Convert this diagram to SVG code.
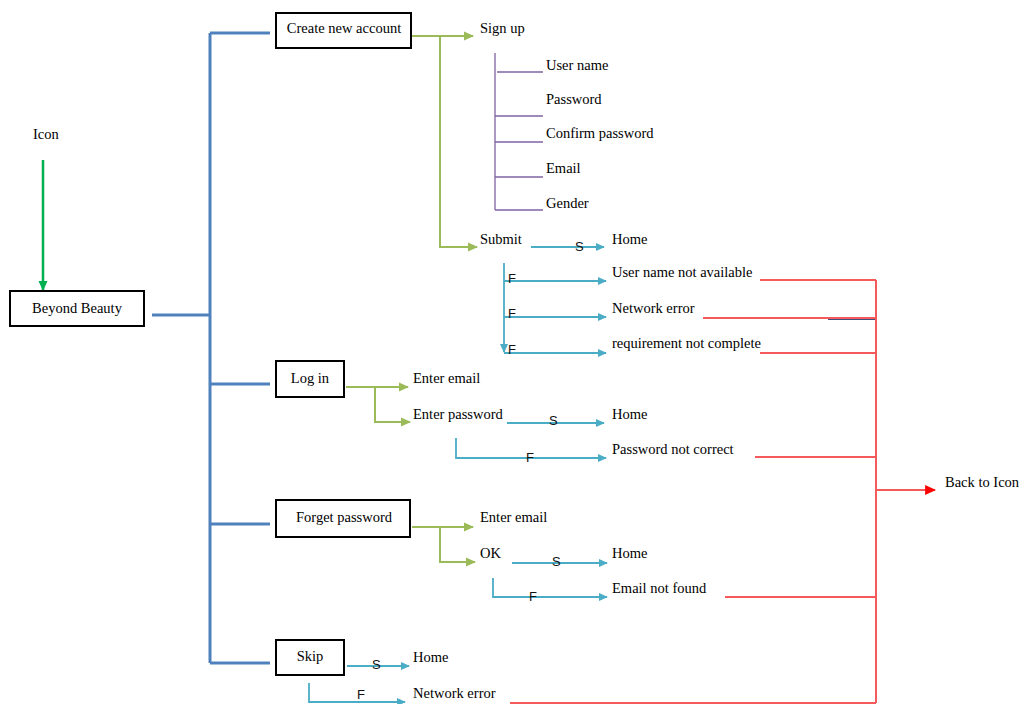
<svg xmlns="http://www.w3.org/2000/svg" width="1023" height="704" viewBox="0 0 1023 704">
  <style>
    .t { font-family: "Liberation Serif", "Times New Roman", serif; font-size: 14.5px; fill: #000; }
    .sf { font-family: "Liberation Sans", Arial, sans-serif; font-size: 13px; fill: #111; }
    .box { fill: #fff; stroke: #000; stroke-width: 2; }
    .main { fill: none; stroke: #4f81bd; stroke-width: 3; }
    .grn { fill: none; stroke: #9bbb59; stroke-width: 2; }
    .pur { fill: none; stroke: #8064a2; stroke-width: 1.3; }
    .cy { fill: none; stroke: #4bacc6; stroke-width: 1.8; }
    .red { fill: none; stroke: #f55a5a; stroke-width: 2; }
  </style>
  <defs>
    <marker id="ahGreen" markerUnits="userSpaceOnUse" markerWidth="10" markerHeight="10" viewBox="0 0 10 10" refX="9" refY="5" orient="auto">
      <path d="M0,0.5 L10,5 L0,9.5 Z" fill="#9bbb59"/>
    </marker>
    <marker id="ahCyan" markerUnits="userSpaceOnUse" markerWidth="9" markerHeight="9" viewBox="0 0 10 10" refX="9" refY="5" orient="auto">
      <path d="M0,0.5 L10,5 L0,9.5 Z" fill="#4bacc6"/>
    </marker>
    <marker id="ahIcon" markerUnits="userSpaceOnUse" markerWidth="10" markerHeight="10" viewBox="0 0 10 10" refX="9" refY="5" orient="auto">
      <path d="M0,0.5 L10,5 L0,9.5 Z" fill="#00b050"/>
    </marker>
    <marker id="ahRed" markerUnits="userSpaceOnUse" markerWidth="11" markerHeight="11" viewBox="0 0 10 10" refX="9" refY="5" orient="auto">
      <path d="M0,0.5 L10,5 L0,9.5 Z" fill="#ff0000"/>
    </marker>
  </defs>

  <!-- connectors -->
  <g id="connectors">
    <!-- entry arrow -->
    <line x1="43" y1="160" x2="43" y2="290" stroke="#00b050" stroke-width="2.5" marker-end="url(#ahIcon)"/>
    <!-- main trunk -->
    <path class="main" d="M152,315 H210 M210,33 V663 M210,33 H270 M210,384 H270 M210,524 H270 M210,663 H270"/>

    <!-- create new account -->
    <path class="grn" d="M411,36 H473" marker-end="url(#ahGreen)"/>
    <path class="grn" d="M440,36 V247 H477" marker-end="url(#ahGreen)"/>
    <path class="pur" d="M495,53 V210 M497,72 H543 M495,116 H543 M495,142 H543 M495,177 H543 M495,210 H543"/>
    <path class="cy" d="M531,247 H604" marker-end="url(#ahCyan)"/>
    <path class="cy" d="M504,263 V352" marker-end="url(#ahCyan)"/>
    <path class="cy" d="M504,281 H606" marker-end="url(#ahCyan)"/>
    <path class="cy" d="M504,317 H606" marker-end="url(#ahCyan)"/>
    <path class="cy" d="M504,353 H606" marker-end="url(#ahCyan)"/>

    <!-- log in -->
    <path class="grn" d="M346,387 H408" marker-end="url(#ahGreen)"/>
    <path class="grn" d="M375,387 V422 H410" marker-end="url(#ahGreen)"/>
    <path class="cy" d="M507,423 H604" marker-end="url(#ahCyan)"/>
    <path class="cy" d="M456,438 V458 H606" marker-end="url(#ahCyan)"/>

    <!-- forget password -->
    <path class="grn" d="M412,527 H473" marker-end="url(#ahGreen)"/>
    <path class="grn" d="M440,527 V562 H475" marker-end="url(#ahGreen)"/>
    <path class="cy" d="M512,563 H607" marker-end="url(#ahCyan)"/>
    <path class="cy" d="M493,578 V597 H607" marker-end="url(#ahCyan)"/>

    <!-- skip -->
    <path class="cy" d="M347,666 H409" marker-end="url(#ahCyan)"/>
    <path class="cy" d="M309,683 V702 H405" marker-end="url(#ahCyan)"/>

    <!-- failure returns -->
    <path class="red" d="M760,280 H876 M703,318 H876 M760,353 H876 M755,457 H876 M725,597 H876 M510,703 H876 M876,280 V703"/>
    <line x1="828" y1="319.5" x2="875" y2="319.5" stroke="#3f4f80" stroke-width="1"/>
    <path class="red" d="M876,490 H935" marker-end="url(#ahRed)"/>

    <!-- S / F labels -->
    <text class="sf" x="575" y="251">S</text>
    <text class="sf" x="508" y="283">F</text>
    <text class="sf" x="508" y="318">F</text>
    <text class="sf" x="508" y="354">F</text>
    <text class="sf" x="549" y="425">S</text>
    <text class="sf" x="526" y="462">F</text>
    <text class="sf" x="552" y="566">S</text>
    <text class="sf" x="529" y="601">F</text>
    <text class="sf" x="372" y="669">S</text>
    <text class="sf" x="357" y="699">F</text>
  </g>

  <!-- nodes -->
  <g id="icon"><text class="t" x="33" y="139">Icon</text></g>
  <g id="beyond-beauty">
    <rect class="box" x="10" y="291" width="134" height="35"/>
    <text class="t" x="77" y="313" text-anchor="middle">Beyond Beauty</text>
  </g>

  <g id="create-account">
    <rect class="box" x="276" y="13" width="135" height="35"/>
    <text class="t" x="344" y="33" text-anchor="middle">Create new account</text>
  </g>
  <g id="sign-up"><text class="t" x="480" y="33">Sign up</text></g>
  <g id="user-name"><text class="t" x="546" y="70">User name</text></g>
  <g id="password"><text class="t" x="546" y="104">Password</text></g>
  <g id="confirm-password"><text class="t" x="546" y="138">Confirm password</text></g>
  <g id="email"><text class="t" x="546" y="173">Email</text></g>
  <g id="gender"><text class="t" x="546" y="208">Gender</text></g>
  <g id="submit"><text class="t" x="480" y="244">Submit</text></g>
  <g id="home-1"><text class="t" x="612" y="244">Home</text></g>
  <g id="username-unavailable"><text class="t" x="612" y="277">User name not available</text></g>
  <g id="network-error-1"><text class="t" x="612" y="313">Network error</text></g>
  <g id="requirement-incomplete"><text class="t" x="612" y="348">requirement not complete</text></g>

  <g id="log-in">
    <rect class="box" x="276" y="361" width="68" height="36"/>
    <text class="t" x="310" y="383" text-anchor="middle">Log in</text>
  </g>
  <g id="enter-email-1"><text class="t" x="413" y="383">Enter email</text></g>
  <g id="enter-password"><text class="t" x="413" y="419">Enter password</text></g>
  <g id="home-2"><text class="t" x="612" y="419">Home</text></g>
  <g id="password-incorrect"><text class="t" x="612" y="454">Password not correct</text></g>

  <g id="forget-password">
    <rect class="box" x="276" y="500" width="134" height="37"/>
    <text class="t" x="344" y="522" text-anchor="middle">Forget password</text>
  </g>
  <g id="enter-email-2"><text class="t" x="480" y="522">Enter email</text></g>
  <g id="ok"><text class="t" x="480" y="558">OK</text></g>
  <g id="home-3"><text class="t" x="612" y="558">Home</text></g>
  <g id="email-not-found"><text class="t" x="612" y="593">Email not found</text></g>

  <g id="skip">
    <rect class="box" x="276" y="640" width="68" height="35"/>
    <text class="t" x="310" y="661" text-anchor="middle">Skip</text>
  </g>
  <g id="home-4"><text class="t" x="413" y="662">Home</text></g>
  <g id="network-error-2"><text class="t" x="413" y="698">Network error</text></g>

  <g id="back-to-icon"><text class="t" x="945" y="487">Back to Icon</text></g>
</svg>
